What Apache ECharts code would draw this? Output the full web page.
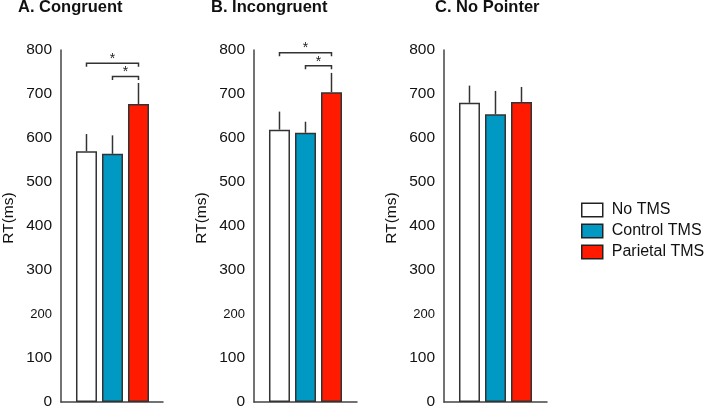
<!DOCTYPE html>
<html><head><meta charset="utf-8">
<script src="https://cdn.jsdelivr.net/npm/echarts@6/dist/echarts.min.js"></script>
<style>html,body{margin:0;padding:0;background:#fff}#c{width:705px;height:410px}</style>
</head><body><div id="c"></div>
<script>
const conditions = ['No TMS', 'Control TMS', 'Parietal TMS'];
const panelTitles = ['A. Congruent', 'B. Incongruent', 'C. No Pointer'];
const yAxisName = 'RT(ms)';
const congruentMean = [570, 564, 677];
const congruentUpper = [609, 606, 725];
const incongruentMean = [619, 612, 704];
const incongruentUpper = [660, 637, 748];
const noPointerMean = [680, 654, 682];
const noPointerUpper = [719, 707, 716];
// significance brackets: [fromCondition, toCondition, level]
const congruentSig = [[0, 2, 770], [1, 2, 740]];
const incongruentSig = [[0, 2, 794], [1, 2, 764]];
const noPointerSig = [];

const panels = [
  {mean: congruentMean, upper: congruentUpper, sig: congruentSig},
  {mean: incongruentMean, upper: incongruentUpper, sig: incongruentSig},
  {mean: noPointerMean, upper: noPointerUpper, sig: noPointerSig}
];
const barColors = ['#ffffff', '#0099c4', '#ff1a00'];
const gridLefts = [61, 254, 444];
const gridWidths = [102, 103, 103];
const titleLefts = [18, 211, 435];
const dark = '#333333';
const font = 'Liberation Sans, Arial, sans-serif';

const chart = echarts.init(document.getElementById('c'), null, {renderer: 'canvas'});
const option = {
  animation: false,
  backgroundColor: '#ffffff',
  title: panelTitles.map((t, i) => ({
    text: t, left: titleLefts[i], top: -1, padding: 0,
    textStyle: {fontFamily: font, fontSize: 16.5, fontWeight: 'bold', color: '#111'}
  })),
  legend: {
    orient: 'vertical', left: 581, top: 202, padding: 0,
    data: conditions, icon: 'rect', itemWidth: 21, itemHeight: 13.5, itemGap: 5,
    textStyle: {fontFamily: font, fontSize: 16, color: '#111', padding: [0, 0, 0, 4], lineHeight: 16},
    itemStyle: {borderColor: '#222', borderWidth: 1.5},
    selectedMode: false
  },
  grid: gridLefts.map((l, i) => ({left: l, width: gridWidths[i], top: 50, height: 354})),
  xAxis: gridLefts.map((l, i) => ({
    type: 'value', gridIndex: i, min: -0.98, max: 2 + (gridWidths[i] - 25.5 - 52) / 26,
    axisLine: {show: true, onZero: false, lineStyle: {color: '#444', width: 1.5}},
    axisTick: {show: false}, axisLabel: {show: false}, splitLine: {show: false}
  })),
  yAxis: gridLefts.map((l, i) => ({
    type: 'value', gridIndex: i, min: 0, max: 800, interval: 100,
    name: yAxisName, nameLocation: 'middle', nameGap: 44, nameRotate: 90,
    nameTextStyle: {fontFamily: font, fontSize: 15.5, color: '#111', padding: [0, 0, 0, 16]},
    axisLine: {show: true, onZero: false, lineStyle: {color: '#444', width: 1.5}},
    axisTick: {show: false}, splitLine: {show: false},
    axisLabel: {
      margin: 9, fontFamily: font, fontSize: 15.5, color: '#111',
      formatter: v => v === 200 ? '{s|' + v + '}' : String(v),
      rich: {s: {fontFamily: font, fontSize: 13, color: '#111'}}
    }
  })),
  series: []
};

panels.forEach((p, pi) => {
  conditions.forEach((c, ci) => {
    option.series.push({
      type: 'bar', name: c, xAxisIndex: pi, yAxisIndex: pi,
      barWidth: 21, barGap: '-100%',
      itemStyle: {color: barColors[ci], borderColor: dark, borderWidth: 1.5},
      data: [[ci, p.mean[ci]]], z: 3
    });
  });
  option.series.push({
    type: 'custom', name: 'err' + pi, xAxisIndex: pi, yAxisIndex: pi, z: 2,
    data: conditions.map((c, ci) => [ci, p.mean[ci], p.upper[ci]]),
    renderItem: (params, api) => {
      const a = api.coord([api.value(0), api.value(1)]);
      const b = api.coord([api.value(0), api.value(2)]);
      return {type: 'line', shape: {x1: a[0], y1: a[1], x2: b[0], y2: b[1]},
        style: {stroke: dark, lineWidth: 1.5}};
    }
  });
  if (p.sig.length) {
    option.series.push({
      type: 'custom', name: 'sig' + pi, xAxisIndex: pi, yAxisIndex: pi, z: 4,
      data: p.sig.map(s => [s[0], s[1], s[2]]),
      renderItem: (params, api) => {
        const a = api.coord([api.value(0), api.value(2)]);
        const b = api.coord([api.value(1), api.value(2)]);
        return {type: 'group', children: [
          {type: 'polyline', shape: {points: [[a[0], a[1] + 3.5], [a[0], a[1]], [b[0], b[1]], [b[0], b[1] + 3.5]]},
            style: {stroke: dark, lineWidth: 1.5, fill: null}},
          {type: 'text', x: (a[0] + b[0]) / 2, y: a[1] + 3,
            style: {text: '*', fontFamily: font, fontSize: 14, fill: '#222', align: 'center', verticalAlign: 'bottom'}}
        ]};
      }
    });
  }
});

chart.setOption(option);
</script>
</body></html>
